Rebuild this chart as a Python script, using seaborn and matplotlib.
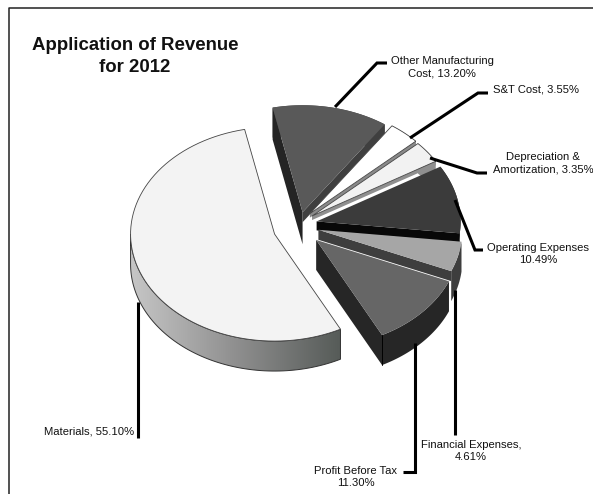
import numpy as np
import matplotlib
matplotlib.use("Agg")
import matplotlib.pyplot as plt
from matplotlib.patches import Polygon
import seaborn as sns

# Revenue shares in pie order, clockwise from the top
categories = ["Other Manufacturing Cost", "S&T Cost", "Depreciation & Amortization",
              "Operating Expenses", "Financial Expenses", "Profit Before Tax", "Materials"]
shares = [13.20, 3.55, 3.35, 10.49, 4.61, 11.30, 55.10]
label_texts = ["Other Manufacturing\nCost, 13.20%", "S&T Cost, 3.55%",
               "Depreciation &\nAmortization, 3.35%", "Operating Expenses\n10.49%",
               "Financial Expenses,\n4.61%", "Profit Before Tax\n11.30%", "Materials, 55.10%"]
title_lines = "Application of Revenue\nfor 2012"

# Appearance of each slice
top_colors = ["#595959", "#ffffff", "#f2f2f2", "#3b3b3b", "#a6a6a6", "#666666", "#f3f3f3"]
edge_colors = ["#3f3f3f", "#8a8a8a", "#8f8f8f", "#080808", "#3e3e3e", "#262626", None]
arc_colors = ["#3f3f3f", "#8a8a8a", "#8f8f8f", "#2a2a2a", "#3e3e3e", "#262626", None]
explode_px = [13, 15, 15, 17, 19, 22, 27]
edge_depth = [10, 4, 4, 9, 10, 30, 0]

CX, CY, RX, RY, DEPTH = 300, 225, 144, 107, 30
START_ANGLE = 102

sns.set_theme(style="white", rc={"font.family": ["Liberation Sans", "DejaVu Sans"]})
side_cmap = sns.blend_palette(["#c6c6c6", "#8f8f8f", "#565b58"], as_cmap=True)

fig = plt.figure(figsize=(5.93, 4.94), dpi=100, facecolor="white")
ax = fig.add_axes([0, 0, 1, 1])
ax.set_xlim(0, 593)
ax.set_ylim(494, 0)
ax.axis("off")

# Frame: only the top and left rules are present
ax.plot([8.5, 8.5, 593], [494, 8.5, 8.5], color="#222222", lw=1.1, zorder=1)


def ellipse_arc(tip, t0, t1, n=80):
    t = np.radians(np.linspace(t0, t1, n))
    return np.column_stack([tip[0] + RX * np.cos(t), tip[1] - RY * np.sin(t)])


fractions = np.array(shares) / np.sum(shares)
sweeps = fractions * 360
starts = START_ANGLE - np.concatenate([[0], np.cumsum(sweeps)[:-1]])
ends = starts - sweeps
z = 2
for i in range(len(shares)):
    t0, t1 = starts[i], ends[i]
    mid = np.radians((t0 + t1) / 2)
    tip = np.array([CX + explode_px[i] * np.cos(mid), CY - explode_px[i] * np.sin(mid)])
    arc = ellipse_arc(tip, t0, t1)
    down = np.array([0, DEPTH])

    if categories[i] == "Materials":
        # Rim of the large slice carries a left-to-right grey gradient
        rim_arc = ellipse_arc(tip, t0, -180)
        rim = np.vstack([rim_arc, (rim_arc + down)[::-1]])
        grad = np.linspace(0, 1, 256).reshape(1, -1)
        xmin, xmax = rim[:, 0].min(), rim[:, 0].max()
        ymin, ymax = rim[:, 1].min(), rim[:, 1].max()
        im = ax.imshow(grad, cmap=side_cmap, extent=[xmin, xmax, ymax, ymin],
                       aspect="auto", zorder=z)
        clip = Polygon(rim, closed=True, transform=ax.transData, fc="none", ec="none")
        ax.add_patch(clip)
        im.set_clip_path(clip)
        ax.add_patch(Polygon(rim, closed=True, fc="none", ec="#333333", lw=0.7, zorder=z + 0.1))
    else:
        # Outer rim
        lower = np.vstack([arc, (arc + down)[::-1]])
        ax.add_patch(Polygon(lower, closed=True, fc=arc_colors[i], ec="none", zorder=z))
        if categories[i] == "Other Manufacturing Cost":
            # Left cut face of the back slice
            p = arc[0]
            ax.add_patch(Polygon([p, p + [0, 32], tip + [0, 32], tip], closed=True,
                                 fc="#242424", ec="none", zorder=z))
        # Clockwise cut face
        p = arc[-1]
        d = np.array([0, edge_depth[i]])
        ax.add_patch(Polygon([tip, p, p + d, tip + d], closed=True,
                             fc=edge_colors[i], ec="none", zorder=z + 0.1))
        if categories[i] == "Profit Before Tax":
            ax.plot([p[0], p[0]], [p[1], p[1] + DEPTH], color="black", lw=0.7, zorder=z + 0.2)

    outline = "#444444" if top_colors[i] in ("#ffffff", "#f2f2f2", "#f3f3f3") else "none"
    ax.add_patch(Polygon(np.vstack([tip, arc]), closed=True, fc=top_colors[i],
                         ec=outline, lw=0.6, zorder=z + 0.3))
    z += 1

# Leader lines and their labels
leaders = {
    "Other Manufacturing Cost": [(335, 107), (377, 63), (387, 63)],
    "S&T Cost": [(410, 138), (478, 93), (488, 93)],
    "Depreciation & Amortization": [(430, 158), (477, 173), (487, 173)],
    "Operating Expenses": [(455, 200), (475, 250), (483, 250)],
    "Financial Expenses": [(455, 290), (455, 435)],
    "Profit Before Tax": [(415, 343), (415, 472), (403, 472)],
    "Materials": [(138, 302), (138, 438)],
}
label_spots = {
    "Other Manufacturing Cost": (442, 67, "center"),
    "S&T Cost": (493, 90, "left"),
    "Depreciation & Amortization": (543, 163, "center"),
    "Operating Expenses": (538, 254, "center"),
    "Financial Expenses": (471, 451, "center"),
    "Profit Before Tax": (356, 477, "center"),
    "Materials": (134, 431, "right"),
}
for name, text in zip(categories, label_texts):
    xs, ys = zip(*leaders[name])
    ax.plot(xs, ys, color="black", lw=2.2, solid_joinstyle="miter", solid_capstyle="butt", zorder=30)
    x, y, ha = label_spots[name]
    ax.text(x, y, text, ha=ha, va="center", fontsize=8.1, color="#111111",
            linespacing=1.25, zorder=31)

ax.text(135, 56.5, title_lines, ha="center", va="center", fontsize=13.4, fontweight="bold",
        color="#111111", linespacing=1.45, zorder=31)

fig.savefig("out.png", dpi=100, facecolor="white")
